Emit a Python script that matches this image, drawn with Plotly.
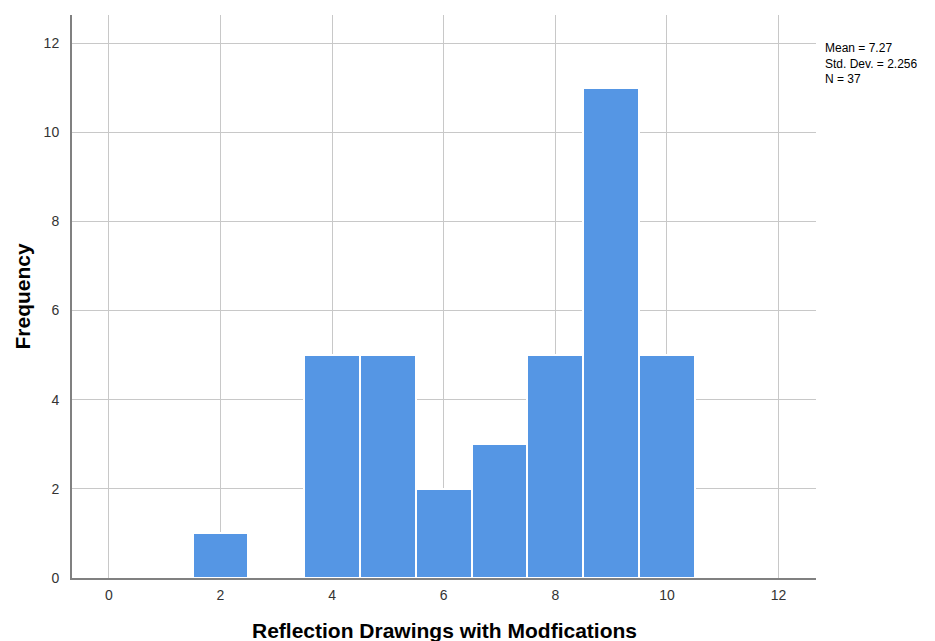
import plotly.graph_objects as go

scores = [2, 4, 5, 6, 7, 8, 9, 10]
frequency = [1, 5, 5, 2, 3, 5, 11, 5]
x_ticks = [0, 2, 4, 6, 8, 10, 12]
y_ticks = [0, 2, 4, 6, 8, 10, 12]
stats_lines = ["Mean = 7.27", "Std. Dev. = 2.256", "N = 37"]
x_title = "Reflection Drawings with Modfications"
y_title = "Frequency"

fig = go.Figure()
fig.add_trace(go.Bar(
    x=scores, y=frequency, width=1,
    marker=dict(color="#5596E4", line=dict(color="white", width=2)),
    hoverinfo="x+y",
))

font = "Liberation Sans, Arial, sans-serif"
annotations = [
    dict(
        text="<br>".join(stats_lines), xref="paper", yref="paper",
        x=1.0, y=1.0, xanchor="left", yanchor="top",
        xshift=8, yshift=-25,
        showarrow=False, align="left", borderpad=0,
        font=dict(size=12, color="#000000", family=font),
    ),
    dict(
        text="<b>" + x_title + "</b>", xref="paper", yref="paper",
        x=0.5, y=0.0, xanchor="center", yanchor="middle", yshift=-52,
        showarrow=False, font=dict(size=21, color="#000000", family=font),
    ),
    dict(
        text="<b>" + y_title + "</b>", xref="paper", yref="paper",
        x=0.0, y=0.5, xanchor="center", yanchor="middle", xshift=-50,
        textangle=-90,
        showarrow=False, font=dict(size=21, color="#000000", family=font),
    ),
]

fig.update_layout(
    width=935, height=641,
    margin=dict(l=72, r=119, t=15, b=63, autoexpand=False),
    paper_bgcolor="white", plot_bgcolor="white",
    showlegend=False, bargap=0,
    font=dict(family=font, size=14, color="#333333"),
    xaxis=dict(
        range=[-0.66, 12.67], tickvals=x_ticks, showgrid=True,
        gridcolor="#c8c8c8", gridwidth=1, zeroline=False,
        showline=True, linecolor="#808080", linewidth=2,
        ticks="", ticklabelstandoff=3,
    ),
    yaxis=dict(
        range=[0, 12.63], tickvals=y_ticks, showgrid=True,
        gridcolor="#c8c8c8", gridwidth=1, zeroline=False,
        showline=True, linecolor="#808080", linewidth=2,
        ticks="", ticklabelstandoff=8,
    ),
    annotations=annotations,
)

fig.write_html("out.html")
